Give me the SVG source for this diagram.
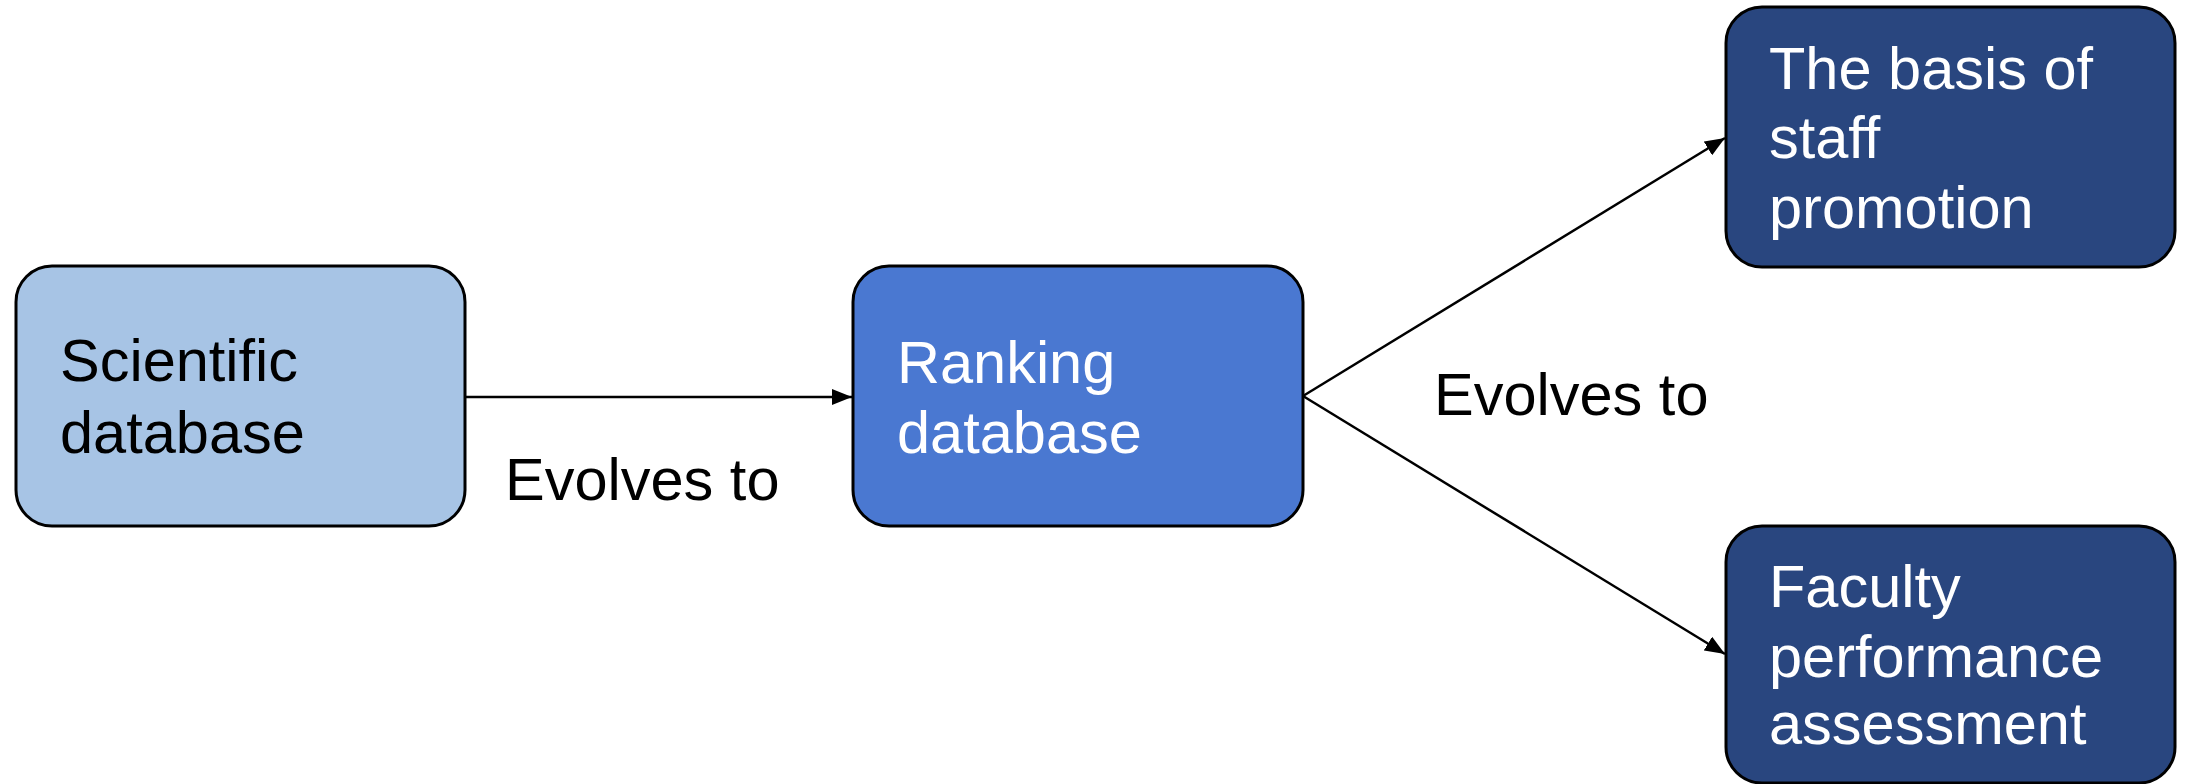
<svg xmlns="http://www.w3.org/2000/svg" width="2185" height="784" viewBox="0 0 2185 784">
  <style>
    .box { stroke: #000; stroke-width: 3; }
    .t { font-family: "Liberation Sans", Arial, sans-serif; font-size: 59.5px; }
    .dark { fill: #000; }
    .light { fill: #fff; }
    .edge { stroke: #000; stroke-width: 2.5; fill: none; marker-end: url(#arrow); }
  </style>
  <defs>
    <marker id="arrow" markerUnits="userSpaceOnUse" markerWidth="20" markerHeight="16" refX="20" refY="8" orient="auto">
      <path d="M0,0 L20,8 L0,16 Z" fill="#000"/>
    </marker>
  </defs>
  <rect width="2185" height="784" fill="#fff"/>
  <g id="connectors">
    <line class="edge" x1="466" y1="397" x2="852" y2="397"/>
    <line class="edge" x1="1303" y1="396" x2="1725" y2="138"/>
    <line class="edge" x1="1303" y1="396" x2="1725" y2="654"/>
    <text class="t dark" x="505" y="500">Evolves to</text>
    <text class="t dark" x="1434" y="415">Evolves to</text>
  </g>
  <g id="node-scientific">
    <rect class="box" x="16" y="266" width="449" height="260" rx="36" fill="#A7C4E5"/>
    <text class="t dark" x="60" y="381">Scientific</text>
    <text class="t dark" x="60" y="453">database</text>
  </g>
  <g id="node-ranking">
    <rect class="box" x="853" y="266" width="450" height="260" rx="36" fill="#4A78D1"/>
    <text class="t light" x="897" y="383">Ranking</text>
    <text class="t light" x="897" y="453">database</text>
  </g>
  <g id="node-promotion">
    <rect class="box" x="1726" y="7" width="449" height="260" rx="36" fill="#29467F"/>
    <text class="t light" x="1769" y="89">The basis of</text>
    <text class="t light" x="1769" y="158">staff</text>
    <text class="t light" x="1769" y="228">promotion</text>
  </g>
  <g id="node-faculty">
    <rect class="box" x="1726" y="526" width="449" height="257" rx="36" fill="#29467F"/>
    <text class="t light" x="1769" y="607">Faculty</text>
    <text class="t light" x="1769" y="677">performance</text>
    <text class="t light" x="1769" y="744">assessment</text>
  </g>
</svg>
